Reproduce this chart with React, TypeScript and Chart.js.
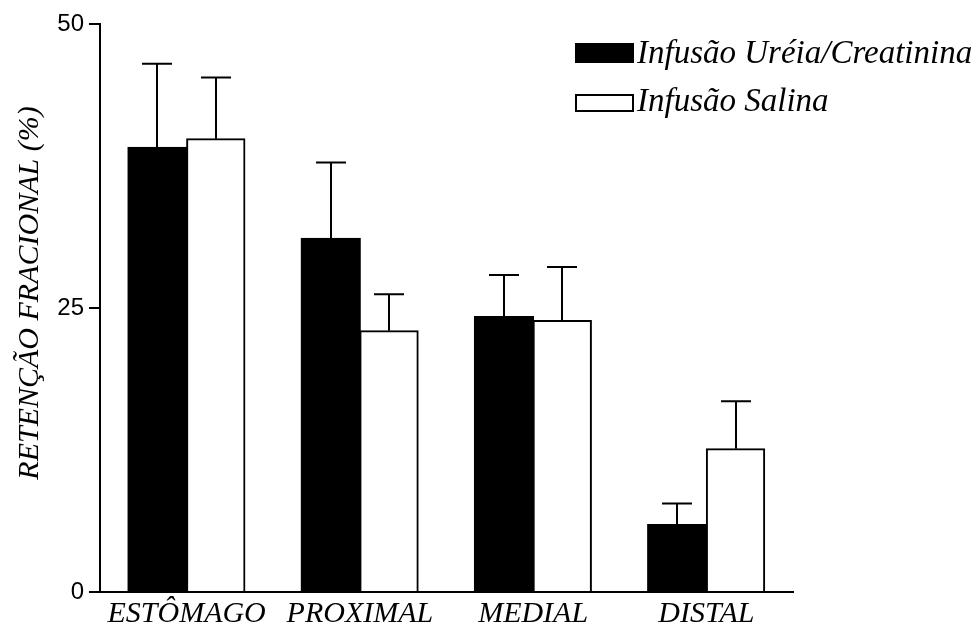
import React, { useEffect, useRef } from 'react';
import { Chart, registerables } from 'chart.js';

Chart.register(...registerables);

const categories = ['ESTÔMAGO', 'PROXIMAL', 'MEDIAL', 'DISTAL'];
const seriesLabels = ['Infusão Uréia/Creatinina', 'Infusão Salina'];
const ureaMeans = [39.1, 31.1, 24.2, 5.9];
const ureaErrors = [7.4, 6.7, 3.7, 1.9];
const salineMeans = [39.9, 23.0, 23.9, 12.6];
const salineErrors = [5.4, 3.2, 4.7, 4.2];
const yTicks = [0, 25, 50];
const yTitle = 'RETENÇÃO FRACIONAL (%)';

const SERIF = "'Liberation Serif', 'Times New Roman', serif";
const SANS = "'Liberation Sans', Arial, sans-serif";

const errorBarPlugin = {
  id: 'errorBars',
  afterDatasetsDraw(chart: any) {
    const { ctx } = chart;
    const yScale = chart.scales.y;
    chart.data.datasets.forEach((ds: any, i: number) => {
      const meta = chart.getDatasetMeta(i);
      meta.data.forEach((bar: any, j: number) => {
        const v = ds.data[j];
        const e = ds.errors[j];
        const x = Math.round(bar.x);
        const yTop = yScale.getPixelForValue(v + e);
        const yBase = bar.y;
        ctx.save();
        ctx.strokeStyle = '#000';
        ctx.lineWidth = 2;
        ctx.beginPath();
        ctx.moveTo(x, yBase);
        ctx.lineTo(x, yTop);
        ctx.moveTo(x - 15, yTop);
        ctx.lineTo(x + 15, yTop);
        ctx.stroke();
        ctx.restore();
      });
    });
  },
};

const titlePlugin = {
  id: 'yTitle',
  afterDraw(chart: any) {
    const { ctx } = chart;
    ctx.save();
    ctx.translate(30, 293);
    ctx.rotate(-Math.PI / 2);
    ctx.fillStyle = '#000';
    ctx.font = `italic 30px ${SERIF}`;
    ctx.textAlign = 'center';
    ctx.textBaseline = 'middle';
    ctx.fillText(yTitle, 0, 0);
    ctx.restore();
  },
};

const legendPlugin = {
  id: 'customLegend',
  afterDraw(chart: any) {
    const { ctx } = chart;
    const rows = [
      { box: [575, 43, 59, 20], baseline: 63 },
      { box: [576, 95, 57, 16], baseline: 111 },
    ];
    chart.data.datasets.forEach((ds: any, i: number) => {
      const r = rows[i];
      if (!r) return;
      ctx.save();
      const [bx, by, bw, bh] = r.box;
      if (ds.backgroundColor === '#000000') {
        ctx.fillStyle = '#000';
        ctx.fillRect(bx, by, bw, bh);
      } else {
        ctx.fillStyle = ds.backgroundColor;
        ctx.fillRect(bx, by, bw, bh);
        ctx.strokeStyle = '#000';
        ctx.lineWidth = 2;
        ctx.strokeRect(bx, by, bw, bh);
      }
      ctx.fillStyle = '#000';
      ctx.font = `italic 33px ${SERIF}`;
      ctx.textBaseline = 'alphabetic';
      ctx.textAlign = 'left';
      ctx.fillText(ds.label, 637, r.baseline);
      ctx.restore();
    });
  },
};

export default function App() {
  const canvasRef = useRef<HTMLCanvasElement | null>(null);

  useEffect(() => {
    const canvas = canvasRef.current;
    if (!canvas) return;
    const chart = new Chart(canvas, {
      type: 'bar',
      data: {
        labels: categories,
        datasets: [
          {
            label: seriesLabels[0],
            data: ureaMeans,
            errors: ureaErrors,
            backgroundColor: '#000000',
            borderColor: '#000000',
            borderWidth: 2,
            inflateAmount: 1,
            categoryPercentage: 0.673,
            barPercentage: 1,
          } as any,
          {
            label: seriesLabels[1],
            data: salineMeans,
            errors: salineErrors,
            backgroundColor: '#ffffff',
            borderColor: '#000000',
            borderWidth: 2,
            inflateAmount: 0.5,
            categoryPercentage: 0.673,
            barPercentage: 1,
          } as any,
        ],
      },
      options: {
        animation: false,
        responsive: false,
        devicePixelRatio: 1,
        layout: { padding: { left: 0, right: 183, top: 24, bottom: 0 } },
        plugins: {
          legend: { display: false },
          tooltip: { enabled: false },
        },
        scales: {
          x: {
            grid: { display: true, drawOnChartArea: false, drawTicks: false, color: 'rgba(0,0,0,0)' },
            border: { display: true, color: '#000', width: 2 },
            ticks: {
              color: '#000',
              padding: 4,
              maxRotation: 0,
              font: { family: SERIF, size: 30, style: 'italic' },
            },
            afterFit: (scale: any) => {
              scale.height = 34;
            },
          },
          y: {
            min: 0,
            max: 50,
            grid: { display: true, drawOnChartArea: false, drawTicks: true, tickLength: 11, color: '#000', lineWidth: 2 },
            border: { display: true, color: '#000', width: 2 },
            afterBuildTicks: (scale: any) => {
              scale.ticks = yTicks.map((v) => ({ value: v }));
            },
            ticks: {
              color: '#000',
              padding: 5,
              font: { family: SANS, size: 24 },
            },
            title: { display: false },
            afterFit: (scale: any) => {
              scale.width = 100;
            },
          },
        },
      },
      plugins: [errorBarPlugin, legendPlugin, titlePlugin],
    } as any);
    return () => chart.destroy();
  }, []);

  return (
    <div style={{ position: 'fixed', left: 0, top: 0, width: 976, height: 626, background: '#fff' }}>
      <canvas ref={canvasRef} width={976} height={626} style={{ display: 'block' }} />
    </div>
  );
}
